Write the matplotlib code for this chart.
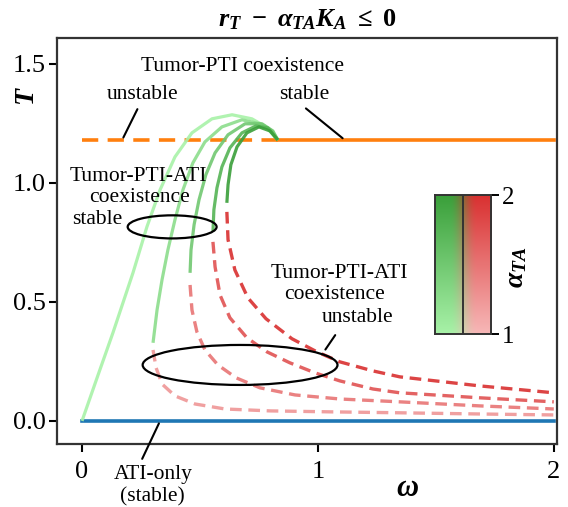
import numpy as np
import matplotlib.pyplot as plt
from matplotlib.patches import Ellipse
from matplotlib.colors import LinearSegmentedColormap

plt.rcParams['font.family'] = ['Liberation Serif', 'DejaVu Serif']
# bold italic math, like the original figure
plt.rcParams['mathtext.fontset'] = 'custom'
plt.rcParams['mathtext.it'] = 'Liberation Serif:italic:bold'
plt.rcParams['mathtext.rm'] = 'Liberation Serif:bold'
plt.rcParams['mathtext.bf'] = 'Liberation Serif:bold'

# values of alpha_TA, one curve each
alpha_ta = [1.0, 1.25, 1.5, 1.75, 2.0]

# stable (green) branch of each curve: omega, T
green_w = [
    [0.000, 0.068, 0.131, 0.216, 0.275, 0.331, 0.394, 0.466, 0.551, 0.636, 0.720, 0.780, 0.83],
    [0.301, 0.318, 0.339, 0.364, 0.394, 0.428, 0.470, 0.521, 0.593, 0.678, 0.754, 0.805, 0.83],
    [0.458, 0.462, 0.475, 0.496, 0.525, 0.564, 0.619, 0.691, 0.763, 0.809, 0.83],
    [0.555, 0.559, 0.572, 0.593, 0.627, 0.678, 0.737, 0.788, 0.83],
    [0.614, 0.619, 0.631, 0.657, 0.699, 0.750, 0.797, 0.83],
]
green_T = [
    [0.000, 0.193, 0.370, 0.622, 0.815, 0.971, 1.109, 1.210, 1.269, 1.286, 1.269, 1.235, 1.18],
    [0.328, 0.466, 0.592, 0.718, 0.845, 0.971, 1.084, 1.172, 1.235, 1.265, 1.248, 1.218, 1.18],
    [0.622, 0.718, 0.824, 0.929, 1.034, 1.126, 1.202, 1.248, 1.248, 1.218, 1.18],
    [0.794, 0.887, 0.979, 1.067, 1.147, 1.210, 1.239, 1.231, 1.18],
    [0.916, 0.992, 1.076, 1.151, 1.210, 1.235, 1.218, 1.18],
]

# unstable (red) branch: omega, T  (alpha_TA = 1 has none)
red_w = [
    None,
    [0.301, 0.314, 0.339, 0.394, 0.479, 0.606, 0.797, 1.051, 1.347, 1.686, 2.0],
    [0.458, 0.466, 0.487, 0.521, 0.576, 0.653, 0.754, 0.903, 1.093, 1.347, 1.686, 2.0],
    [0.555, 0.564, 0.585, 0.627, 0.699, 0.784, 0.881, 0.987, 1.093, 1.233, 1.347, 1.686, 2.0],
    [0.614, 0.619, 0.648, 0.703, 0.780, 0.890, 0.996, 1.093, 1.233, 1.347, 1.686, 2.0],
]
red_T = [
    None,
    [0.298, 0.223, 0.155, 0.105, 0.071, 0.050, 0.042, 0.038, 0.034, 0.029, 0.025],
    [0.571, 0.466, 0.374, 0.298, 0.235, 0.181, 0.139, 0.109, 0.092, 0.080, 0.063, 0.050],
    [0.752, 0.647, 0.529, 0.433, 0.349, 0.290, 0.244, 0.202, 0.168, 0.134, 0.118, 0.097, 0.080],
    [0.878, 0.761, 0.634, 0.517, 0.429, 0.345, 0.290, 0.248, 0.210, 0.185, 0.147, 0.118],
]

# tumor-PTI equilibrium and ATI-only equilibrium
T_pti = 1.18
w_switch = 0.83
w_max = 2.0

greens = LinearSegmentedColormap.from_list('g', ['#a8f2a8', '#3a9f3a'])
reds = LinearSegmentedColormap.from_list('r', ['#f7b8b8', '#d93030'])
def norm(a):
    return (a - 1.0) / (2.0 - 1.0)

fig = plt.figure(figsize=(5.68, 5.07), dpi=100)
ax = fig.add_axes([0.1004, 0.1243, 0.880, 0.801])

ax.plot([0, w_switch], [T_pti, T_pti], color='#ff7f0e', lw=2.6, ls=(0, (4.5, 2.6)), zorder=2)
ax.plot([w_switch, w_max], [T_pti, T_pti], color='#ff7f0e', lw=2.6, zorder=2)
ax.plot([0, w_max], [0, 0], color='#1f77b4', lw=2.6, zorder=2)

for i, a in enumerate(alpha_ta):
    ax.plot(green_w[i], green_T[i], color=greens(norm(a)), lw=2.3, alpha=0.9,
            solid_capstyle='butt', zorder=3)
    if red_w[i] is not None:
        ax.plot(red_w[i], red_T[i], color=reds(norm(a)), lw=2.4, alpha=0.9,
                ls=(0, (3.5, 2.0)), zorder=3)

ax.set_xlim(-0.106, 2.013)
ax.set_ylim(-0.097, 1.609)
ax.set_xticks([0, 1, 2])
ax.set_yticks([0, 0.5, 1.0, 1.5])
ax.set_yticklabels(['0.0', '0.5', '1.0', '1.5'])
ax.tick_params(labelsize=19, length=6, width=1.5, pad=2)
ax.tick_params(axis='x', pad=6)
for s in ax.spines.values():
    s.set_linewidth(1.6)
    s.set_color('#333333')

ax.set_xlabel(r'$\omega$', fontsize=22)
ax.xaxis.set_label_coords(0.702, -0.075)
ax.set_ylabel(r'$T$', fontsize=20)
ax.yaxis.set_label_coords(-0.035, 0.857)
ax.set_title(r'$r_T\ -\ \alpha_{TA} K_A\ \leq\ 0$', fontsize=19, pad=8)

# annotations
fs = 15.5
ax.text(0.682, 1.49, 'Tumor-PTI coexistence', fontsize=fs, ha='center', va='center')
ax.text(0.258, 1.37, 'unstable', fontsize=fs, ha='center', va='center')
ax.text(0.94, 1.37, 'stable', fontsize=fs, ha='center', va='center')
ax.annotate('', xy=(0.17, 1.18), xytext=(0.24, 1.32),
            arrowprops=dict(arrowstyle='-', lw=1.5, color='black'))
ax.annotate('', xy=(1.114, 1.18), xytext=(0.94, 1.32),
            arrowprops=dict(arrowstyle='-', lw=1.5, color='black'))

ax.text(0.24, 1.025, 'Tumor-PTI-ATI', fontsize=fs, ha='center', va='center', zorder=5)
ax.text(0.245, 0.94, 'coexistence', fontsize=fs, ha='center', va='center', zorder=5)
ax.text(0.063, 0.845, 'stable', fontsize=fs, ha='center', va='center', zorder=5)
ax.add_patch(Ellipse((0.382, 0.815), 0.377, 0.097, fill=False, lw=1.6, color='black', zorder=5))

ax.text(1.09, 0.62, 'Tumor-PTI-ATI', fontsize=fs, ha='center', va='center')
ax.text(1.07, 0.53, 'coexistence', fontsize=fs, ha='center', va='center')
ax.text(1.17, 0.435, 'unstable', fontsize=fs, ha='center', va='center')
ax.annotate('', xy=(1.025, 0.29), xytext=(1.08, 0.37),
            arrowprops=dict(arrowstyle='-', lw=1.5, color='black'))
ax.add_patch(Ellipse((0.670, 0.235), 0.826, 0.168, fill=False, lw=1.6, color='black', zorder=5))

ax.text(0.30, -0.225, 'ATI-only', fontsize=fs, ha='center', va='center', clip_on=False)
ax.text(0.30, -0.318, '(stable)', fontsize=fs, ha='center', va='center', clip_on=False)
ax.annotate('', xy=(0.331, 0.0), xytext=(0.25, -0.17),
            arrowprops=dict(arrowstyle='-', lw=1.5, color='black'), annotation_clip=False)

# two-column legend bar for alpha_TA
cax = fig.add_axes([0.766, 0.341, 0.0986, 0.274])
grad = np.linspace(0, 1, 256)[:, None]
img = np.concatenate([greens(grad)[:, :, :3], reds(grad)[:, :, :3]], axis=1)
cax.imshow(img, aspect='auto', origin='lower', extent=[0, 2, 1, 2])
cax.axvline(1, color='#333333', lw=1.4)
cax.set_xticks([])
cax.yaxis.tick_right()
cax.set_yticks([1, 2])
cax.set_yticklabels(['1', '2'])
cax.tick_params(labelsize=18, length=6, width=1.4, pad=2)
for s in cax.spines.values():
    s.set_linewidth(1.4)
    s.set_color('#333333')
cax.text(1.45, 0.48, r'$\alpha_{TA}$', transform=cax.transAxes, fontsize=20,
         rotation=90, ha='center', va='center')

fig.savefig('out.png', dpi=100)
